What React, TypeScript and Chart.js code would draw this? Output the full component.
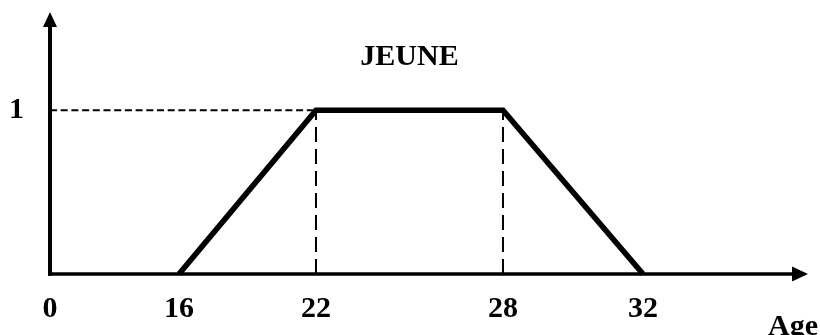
import React, { useEffect, useRef } from 'react';
import { Chart, registerables, LinearScale } from 'chart.js';

// ---- chart values ----
const xTickValues = [0, 16, 22, 28, 32];
const xTickLabels = ['0', '16', '22', '28', '32'];
const yTickValues = [1];
const yTickLabels = ['1'];
const ages = [16, 22, 28, 32];
const membership = [0, 1, 1, 0];
const setName = 'JEUNE';
const axisName = 'Age';

// A linear scale whose spacing is stretched piecewise (schematic, not-to-scale axis)
class StretchScale extends LinearScale {
  static id = 'stretch';

  toDecimal(value: number): number {
    const st: any = (this as any).options.stretch;
    const v: number[] = Array.from(st.values);
    const f: number[] = Array.from(st.fractions);
    const n = v.length;
    let i = 0;
    while (i < n - 2 && value > v[i + 1]) i++;
    return f[i] + ((value - v[i]) / (v[i + 1] - v[i])) * (f[i + 1] - f[i]);
  }

  getPixelForValue(value: number): number {
    if (value === null || value === undefined) return NaN;
    return (this as any).getPixelForDecimal(this.toDecimal(value));
  }

  getValueForPixel(pixel: number): number {
    const st: any = (this as any).options.stretch;
    const v: number[] = Array.from(st.values);
    const f: number[] = Array.from(st.fractions);
    const d = (this as any).getDecimalForPixel(pixel);
    const n = v.length;
    let i = 0;
    while (i < n - 2 && d > f[i + 1]) i++;
    return v[i] + ((d - f[i]) / (f[i + 1] - f[i])) * (v[i + 1] - v[i]);
  }
}

Chart.register(...registerables, StretchScale as any);

const FONT_FAMILY = '"Liberation Serif", "Times New Roman", serif';

const axesAndTextPlugin = {
  id: 'axesAndText',
  beforeDatasetsDraw(chart: any) {
    const { ctx } = chart;
    const xs = chart.scales.x;
    const ys = chart.scales.y;
    const x0 = xs.getPixelForValue(0);
    const y0 = ys.getPixelForValue(0);
    const right = chart.chartArea.right;
    const top = chart.chartArea.top;
    ctx.save();
    ctx.strokeStyle = '#000';
    ctx.fillStyle = '#000';
    ctx.lineCap = 'butt';
    // x axis
    ctx.lineWidth = 3.4;
    ctx.beginPath();
    ctx.moveTo(x0 - 2, y0);
    ctx.lineTo(right - 6, y0);
    ctx.stroke();
    ctx.beginPath();
    ctx.moveTo(right, y0);
    ctx.lineTo(right - 16, y0 - 7.5);
    ctx.lineTo(right - 16, y0 + 7.5);
    ctx.closePath();
    ctx.fill();
    // y axis
    ctx.lineWidth = 4;
    ctx.beginPath();
    ctx.moveTo(x0, y0 + 1.7);
    ctx.lineTo(x0, top + 6);
    ctx.stroke();
    ctx.beginPath();
    ctx.moveTo(x0, top);
    ctx.lineTo(x0 - 7, top + 15);
    ctx.lineTo(x0 + 7, top + 15);
    ctx.closePath();
    ctx.fill();
    ctx.restore();
  },
  afterDraw(chart: any) {
    const { ctx } = chart;
    const xs = chart.scales.x;
    const ys = chart.scales.y;
    ctx.save();
    ctx.fillStyle = '#000';
    ctx.font = `bold 30px ${FONT_FAMILY}`;
    ctx.textBaseline = 'middle';
    ctx.textAlign = 'center';
    const cx = xs.getPixelForValue((ages[1] + ages[2]) / 2);
    const cy = ys.getPixelForValue(membership[1]) - 53;
    ctx.fillText(setName, cx, cy);
    ctx.textAlign = 'left';
    ctx.fillText(axisName, chart.chartArea.right - 40, chart.chartArea.bottom + 53);
    ctx.restore();
  },
};

export default function App() {
  const ref = useRef<HTMLCanvasElement | null>(null);

  useEffect(() => {
    if (!ref.current) return;
    const plateau = membership[1];
    const chart = new Chart(ref.current, {
      type: 'line',
      data: {
        datasets: [
          {
            data: [
              { x: xTickValues[0], y: plateau },
              { x: ages[1], y: plateau },
            ],
            borderColor: '#000',
            borderWidth: 2,
            borderDash: [7, 3.7],
            pointRadius: 0,
            clip: false,
          },
          {
            data: [
              { x: ages[1], y: 0 },
              { x: ages[1], y: plateau },
            ],
            borderColor: '#000',
            borderWidth: 2,
            borderDash: [15, 7],
            pointRadius: 0,
            clip: false,
          },
          {
            data: [
              { x: ages[2], y: 0 },
              { x: ages[2], y: plateau },
            ],
            borderColor: '#000',
            borderWidth: 2,
            borderDash: [15, 7],
            pointRadius: 0,
            clip: false,
          },
          {
            data: ages.map((a, i) => ({ x: a, y: membership[i] })),
            borderColor: '#000',
            borderWidth: 5.7,
            borderJoinStyle: 'miter',
            borderCapStyle: 'butt',
            pointRadius: 0,
            clip: false,
          },
        ] as any,
      },
      options: {
        animation: false,
        responsive: false,
        devicePixelRatio: 1,
        layout: { padding: { top: 12, right: 12, left: 0, bottom: 0 } },
        plugins: {
          legend: { display: false },
          tooltip: { enabled: false },
          title: { display: false },
        },
        scales: {
          x: {
            type: 'stretch' as any,
            min: 0,
            max: 36,
            stretch: {
              values: [0, 16, 22, 28, 32, 36],
              fractions: [0, 0.1702, 0.3509, 0.5976, 0.7823, 1],
            },
            grid: { display: false, drawTicks: false },
            border: { display: false },
            ticks: {
              color: '#000',
              padding: 17,
              maxRotation: 0,
              autoSkip: false,
              font: { family: FONT_FAMILY, size: 30, weight: 'bold' },
              callback: (_v: any, i: number) => xTickLabels[i],
            },
            afterBuildTicks: (scale: any) => {
              scale.ticks = xTickValues.map((v) => ({ value: v }));
            },
            afterFit: (scale: any) => {
              scale.height = 61;
              scale.paddingLeft = 0;
              scale.paddingRight = 0;
              scale.paddingTop = 0;
              scale.paddingBottom = 0;
            },
          } as any,
          y: {
            type: 'linear',
            min: 0,
            max: 1.6,
            grid: { display: false, drawTicks: false },
            border: { display: false },
            ticks: {
              color: '#000',
              padding: 26,
              font: { family: FONT_FAMILY, size: 30, weight: 'bold' },
              callback: (_v: any, i: number) => yTickLabels[i],
            },
            afterBuildTicks: (scale: any) => {
              scale.ticks = yTickValues.map((v) => ({ value: v }));
            },
            afterFit: (scale: any) => {
              scale.width = 50;
              scale.paddingLeft = 0;
              scale.paddingRight = 0;
              scale.paddingTop = 0;
              scale.paddingBottom = 0;
            },
          } as any,
        },
      },
      plugins: [axesAndTextPlugin],
    });
    return () => chart.destroy();
  }, []);

  return (
    <canvas
      ref={ref}
      width={820}
      height={335}
      style={{ position: 'fixed', left: 0, top: 0, width: 820, height: 335, display: 'block', background: '#fff' }}
    />
  );
}
